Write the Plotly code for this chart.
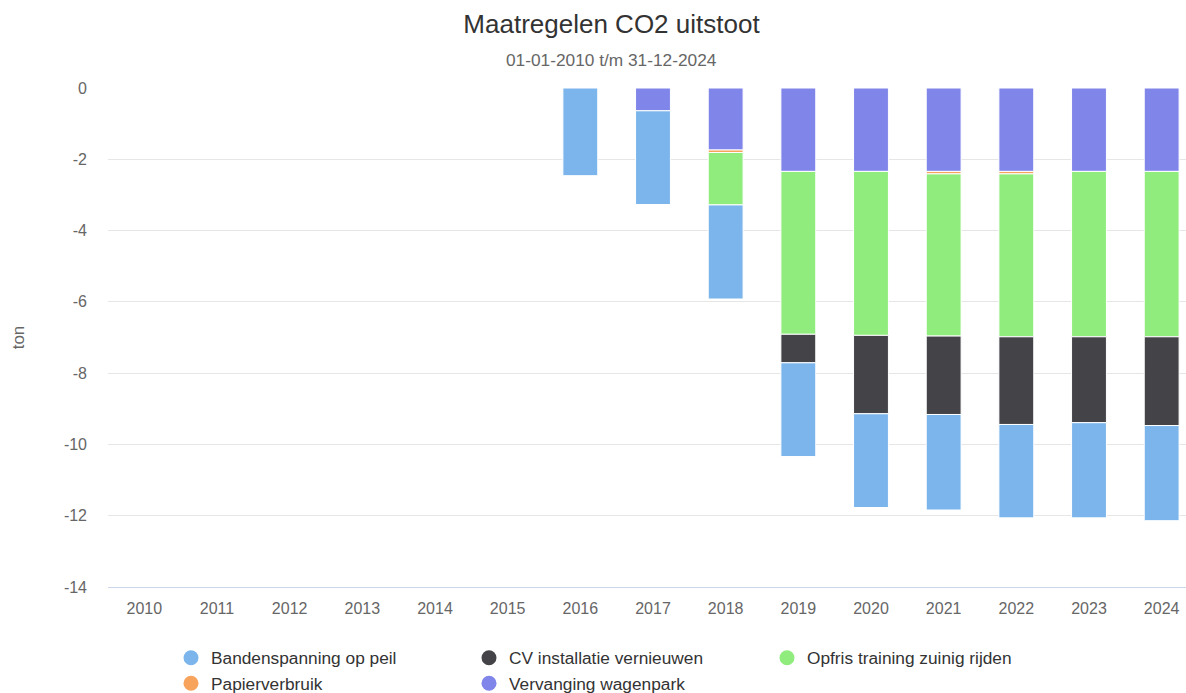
import plotly.graph_objects as go

years = [str(y) for y in range(2010, 2025)]

banden = [0, 0, 0, 0, 0, 0, -2.46, -2.63, -2.64, -2.63, -2.63, -2.68, -2.62, -2.67, -2.67]
cv = [0, 0, 0, 0, 0, 0, 0, 0, 0, -0.80, -2.20, -2.20, -2.46, -2.41, -2.49]
opfris = [0, 0, 0, 0, 0, 0, 0, 0, -1.47, -4.57, -4.60, -4.55, -4.57, -4.64, -4.64]
papier = [0, 0, 0, 0, 0, 0, 0, 0, -0.07, 0, 0, -0.07, -0.07, 0, 0]
vervanging = [0, 0, 0, 0, 0, 0, 0, -0.64, -1.74, -2.34, -2.34, -2.34, -2.34, -2.34, -2.34]

y_ticks = [0, -2, -4, -6, -8, -10, -12, -14]
y_tick_labels = ["0", "-2", "-4", "-6", "-8", "-10", "-12", "-14"]

series = [
    ("Bandenspanning op peil", banden, "#7cb5ec"),
    ("CV installatie vernieuwen", cv, "#434348"),
    ("Opfris training zuinig rijden", opfris, "#90ed7d"),
    ("Papierverbruik", papier, "#f7a35c"),
    ("Vervanging wagenpark", vervanging, "#8085e9"),
]

fig = go.Figure()
# stack order: last series nearest zero
for name, vals, col in reversed(series):
    fig.add_trace(go.Bar(
        x=years, y=[v if v != 0 else None for v in vals], name=name,
        marker=dict(color=col, line=dict(color="white", width=1)),
        showlegend=False, hoverinfo="x+y+name",
    ))
for name, vals, col in series:
    fig.add_trace(go.Scatter(
        x=[None], y=[None], mode="markers", name=name,
        marker=dict(symbol="circle", size=15, color=col),
        showlegend=True,
    ))

font_family = "Liberation Sans, Arial, sans-serif"
plot_h = 693 - 88 - 106
fig.update_layout(
    width=1186, height=693,
    barmode="relative", bargap=0.52,
    paper_bgcolor="white", plot_bgcolor="white",
    margin=dict(l=108, r=0, t=88, b=106),
    font=dict(family=font_family, color="#666666", size=16),
    title=dict(text="Maatregelen CO2 uitstoot", x=611.5 / 1186, xanchor="center",
               y=1 - 24 / 693, yanchor="middle", yref="container",
               font=dict(size=26, color="#333333", family=font_family)),
    annotations=[dict(text="01-01-2010 t/m 31-12-2024", xref="paper", yref="paper",
                      x=(611 - 108) / 1078, y=1 + (88 - 60) / plot_h,
                      xanchor="center", yanchor="middle",
                      showarrow=False, font=dict(size=17.3, color="#666666"))],
    xaxis=dict(type="category", range=[-0.5, 14.335], showgrid=False,
               showline=True, linecolor="#ccd6eb", linewidth=1,
               ticks="", ticklabelstandoff=7,
               tickfont=dict(size=16, color="#666666"), fixedrange=True),
    yaxis=dict(range=[-14, 0], tickvals=y_ticks, ticktext=y_tick_labels,
               showgrid=True, gridcolor="#e6e6e6",
               zeroline=False, showline=False, ticks="", ticklabelstandoff=20,
               tickfont=dict(size=16, color="#666666"),
               title=dict(text="ton", font=dict(size=17, color="#666666"), standoff=34)),
    legend=dict(orientation="h", xref="container", yref="container",
                x=171 / 1186, y=1 - 640 / 693, xanchor="left", yanchor="top",
                entrywidth=253, entrywidthmode="pixels", traceorder="normal",
                font=dict(size=17.3, color="#333333"), itemsizing="trace"),
)
fig.write_html("out.html", post_script="document.body.style.margin='0';",
               config={"displayModeBar": False})
